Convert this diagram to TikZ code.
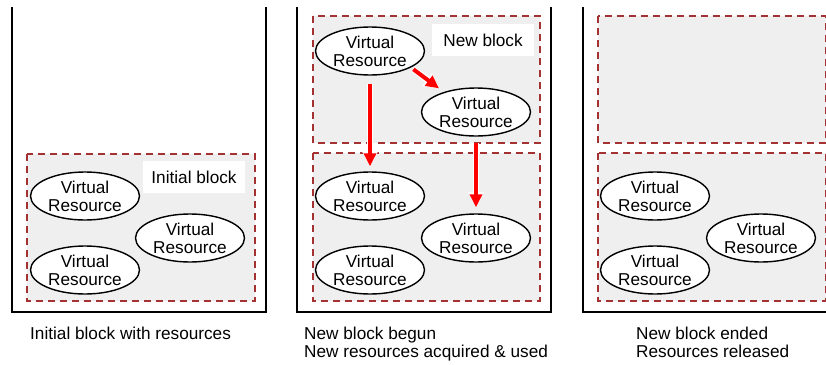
\documentclass[tikz,border=0pt]{standalone}
\usepackage{fontspec}
\setmainfont{Liberation Sans}
\usetikzlibrary{shapes.geometric,arrows.meta}
\definecolor{blockred}{RGB}{165,50,50}
\definecolor{blockfill}{RGB}{239,239,239}
\tikzset{
  vres/.style={ellipse, draw=black, line width=1.4pt, fill=white,
    minimum width=109pt, minimum height=48pt, inner sep=0pt, align=center,
    font=\fontsize{17.2}{18}\selectfont},
  blk/.style={draw=blockred, line width=1.3pt, fill=blockfill, dash pattern=on 7pt off 5pt},
  tag/.style={fill=white, minimum width=102pt, minimum height=32pt, inner sep=0pt,
    font=\fontsize{17.2}{18}\selectfont},
  wall/.style={line width=1.8pt, black},
  caption/.style={anchor=base west, align=left, inner sep=0pt,
    font=\fontsize{17.2}{18}\selectfont},
  move/.style={red, line width=4pt, -{Triangle[length=13pt,width=12pt]},
    preaction={draw=white, line width=6.5pt, -{Triangle[length=15pt,width=15pt]}}},
}
\begin{document}
\begin{tikzpicture}[x=1pt, y=-1pt]
\useasboundingbox (0,0) rectangle (826,364);

% containers
\draw[wall] (12,7) -- (12,312) -- (266,312) -- (266,7);
\draw[wall] (297,7) -- (297,312) -- (551,312) -- (551,7);
\draw[wall] (583,7) -- (583,312) -- (828,312);

% blocks
\draw[blk] (27,154) rectangle (255,301);
\draw[blk] (313,16) rectangle (540,143);
\draw[blk] (313,153) rectangle (540,301);
\draw[blk] (598,16) rectangle (826,143);
\draw[blk] (598,153) rectangle (826,301);

% block names
\node[tag] (initTag) at (194,177) {Initial block};
\node[tag] (newTag) at (483,40) {New block};

% panel 1: initial block with its resources
\node[vres] (p1a) at (85,196) {Virtual\\Resource};
\node[vres] (p1b) at (85,270) {Virtual\\Resource};
\node[vres] (p1c) at (190,238) {Virtual\\Resource};

% panel 2: new block on top of the initial block
\node[vres] (n1) at (370,51) {Virtual\\Resource};
\node[vres] (n2) at (476,112) {Virtual\\Resource};
\node[vres] (p2a) at (370,196) {Virtual\\Resource};
\node[vres] (p2b) at (370,270) {Virtual\\Resource};
\node[vres] (p2c) at (476,238) {Virtual\\Resource};

% panel 3: new block ended, its resources released
\node[vres] (p3a) at (655,196) {Virtual\\Resource};
\node[vres] (p3b) at (655,270) {Virtual\\Resource};
\node[vres] (p3c) at (761,238) {Virtual\\Resource};

% resource usage
\draw[move, shorten <=8pt, shorten >=5pt] (n1.south) -- (p2a.north);
\draw[move, shorten <=6pt, shorten >=6pt] (n2.south) -- (p2c.north);
\draw[move, shorten <=3pt, shorten >=6pt] (n1.-22) -- (n2.148);

% captions
\node[caption] (c1) at (30,339) {Initial block with resources};
\node[caption] (c2a) at (304,339) {New block begun};
\node[caption] (c2b) at (304,357) {New resources acquired \& used};
\node[caption] (c3a) at (636,339) {New block ended};
\node[caption] (c3b) at (636,357) {Resources released};
\end{tikzpicture}
\end{document}
